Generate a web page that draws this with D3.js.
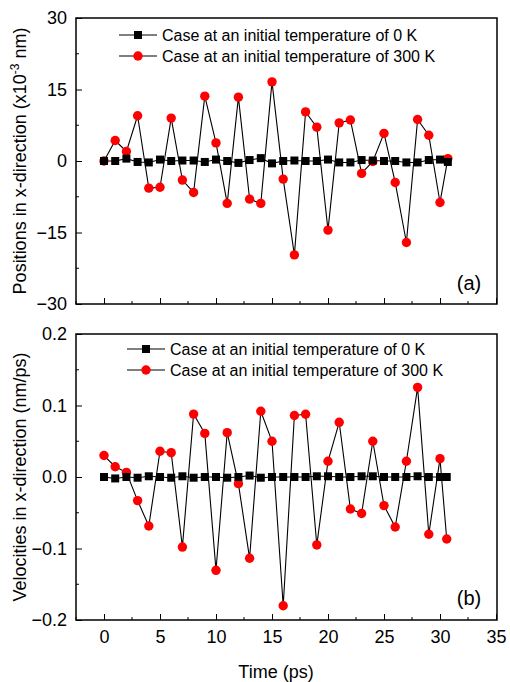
<!DOCTYPE html>
<html><head><meta charset="utf-8">
<script src="https://cdn.jsdelivr.net/npm/d3@7"></script>
<style>body{margin:0;background:#fff}svg{display:block}text{font-family:"Liberation Sans",Arial,sans-serif;fill:#000}</style>
</head><body><div id="c"></div>
<script>
// ---- data ----
const timeTop = [0,1,2,3,4,5,6,7,8,9,10,11,12,13,14,15,16,17,18,19,20,21,22,23,24,25,26,27,28,29,30,30.7];
const pos0K   = [0,0,0.5,-0.2,-0.3,0.3,0,0.1,0.1,-0.2,0.3,0,-0.4,0.2,0.6,-0.5,0,0.1,0,0,0.3,-0.3,-0.3,0.2,0.1,0,0,-0.3,-0.3,0.2,0.3,-0.2];
const pos300K = [0,4.3,2.0,9.5,-5.7,-5.5,9.0,-4.0,-6.6,13.6,3.8,-8.9,13.4,-8.0,-8.9,16.6,-3.8,-19.7,10.3,7.1,-14.5,8.0,8.6,-2.6,-0.1,5.8,-4.5,-17.1,8.7,5.4,-8.7,0.5];
const timeBot = [0,1,2,3,4,5,6,7,8,9,10,11,12,13,14,15,16,17,18,19,20,21,22,23,24,25,26,27,28,29,30,30.6];
const vel0K   = [0,-0.002,0,-0.001,0.001,0,-0.001,0.001,-0.001,0,0,-0.001,0,0.002,-0.001,0,0,0,0,0.001,0.001,0,0,0.001,0.001,0,0,0,0.001,0,0,0];
const vel300K = [0.030,0.0144,0.0065,-0.033,-0.0685,0.036,0.034,-0.098,0.088,0.061,-0.1305,0.062,-0.0093,-0.1137,0.092,0.050,-0.180,0.086,0.0877,-0.095,0.022,0.0765,-0.0448,-0.051,0.050,-0.040,-0.070,0.022,0.1254,-0.080,0.0256,-0.0867];
const xTicks = [0,5,10,15,20,25,30,35];
const posTicks = [-30,-15,0,15,30];
const velTicks = [-0.2,-0.1,0.0,0.1,0.2];
const legendLabels = ["Case at an initial temperature of 0 K","Case at an initial temperature of 300 K"];

const W=510,H=682;
const svg=d3.select("#c").append("svg").attr("width",W).attr("height",H);
const x=d3.scaleLinear().domain([-2.5,35]).range([76,496]);

function panel(o){
  const y=d3.scaleLinear().domain(o.ydom).range([o.bottom,o.top]);
  const g=svg.append("g");
  const xMinor=d3.range(-2.5,35.01,2.5).filter(v=>!xTicks.includes(v));
  g.selectAll(".xmin").data(xMinor).enter().append("line")
    .attr("x1",d=>x(d)).attr("x2",d=>x(d)).attr("y1",o.bottom).attr("y2",o.bottom-3).attr("stroke","#000");
  const yMinor=[];for(let i=0;i<o.yticks.length-1;i++)yMinor.push((o.yticks[i]+o.yticks[i+1])/2);
  g.selectAll(".ymin").data(yMinor).enter().append("line")
    .attr("x1",76).attr("x2",79).attr("y1",d=>y(d)).attr("y2",d=>y(d)).attr("stroke","#000");
  const xa=g.append("g").attr("transform",`translate(0,${o.bottom})`)
    .call(d3.axisBottom(x).tickValues(xTicks).tickSizeInner(-6).tickSizeOuter(0).tickPadding(10).tickFormat(o.xlabels?d3.format("d"):""));
  xa.select(".domain").remove();
  xa.selectAll("text").attr("font-size",18).attr("font-family","Liberation Sans, Arial, sans-serif");
  const ya=g.append("g").attr("transform",`translate(76,0)`)
    .call(d3.axisLeft(y).tickValues(o.yticks).tickSizeInner(-6).tickSizeOuter(0).tickPadding(9).tickFormat(o.yfmt));
  ya.select(".domain").remove();
  ya.selectAll("text").attr("font-size",18).attr("font-family","Liberation Sans, Arial, sans-serif");
  g.selectAll(".tick line").attr("stroke","#000");
  g.append("rect").attr("x",76).attr("y",o.top).attr("width",421).attr("height",o.bottom-o.top)
    .attr("fill","none").attr("stroke","#000").attr("stroke-width",1.5);
  const line=d3.line().x(d=>x(d[0])).y(d=>y(d[1]));
  const d0=o.t.map((t,i)=>[t,o.s0[i]]), d1=o.t.map((t,i)=>[t,o.s1[i]]);
  g.append("path").datum(d1).attr("d",line).attr("fill","none").attr("stroke","#000").attr("stroke-width",1.1);
  g.append("path").datum(d0).attr("d",line).attr("fill","none").attr("stroke","#000").attr("stroke-width",1.1);
  g.selectAll(".c").data(d1).enter().append("circle").attr("cx",d=>x(d[0])).attr("cy",d=>y(d[1])).attr("r",4.7).attr("fill","#f00");
  g.selectAll(".s").data(d0).enter().append("rect").attr("x",d=>x(d[0])-4).attr("y",d=>y(d[1])-4).attr("width",8).attr("height",8).attr("fill","#000");
  const L=o.leg;
  [0,1].forEach(i=>{
    const yy=L.y+i*21;
    g.append("line").attr("x1",L.x).attr("x2",L.x+38).attr("y1",yy).attr("y2",yy).attr("stroke","#000").attr("stroke-width",1.1);
    if(i===0) g.append("rect").attr("x",L.x+19-4).attr("y",yy-4).attr("width",8).attr("height",8).attr("fill","#000");
    else g.append("circle").attr("cx",L.x+19).attr("cy",yy).attr("r",4.7).attr("fill","#f00");
    g.append("text").attr("x",L.x+43).attr("y",yy).attr("dy","0.35em").attr("font-size",16).text(legendLabels[i]);
  });
  g.append("text").attr("x",469).attr("y",o.tag[1]).attr("dy","0.35em").attr("text-anchor","middle").attr("font-size",20).text(o.tag[0]);
  const yt=g.append("text").attr("transform",`translate(20,${(o.top+o.bottom)/2}) rotate(-90)`).attr("dy","0.35em").attr("text-anchor","middle").attr("font-size",18);
  o.title(yt);
  return g;
}

panel({top:18,bottom:304,ydom:[-30,30],yticks:posTicks,yfmt:d3.format("d"),t:timeTop,s0:pos0K,s1:pos300K,xlabels:false,
  leg:{x:119,y:35},tag:["(a)",283],
  title:t=>{t.append("tspan").text("Positions in x-direction (x10");t.append("tspan").attr("font-size",12).attr("dy",-7).text("-3");t.append("tspan").attr("dy",7).text(" nm)");}});
panel({top:334,bottom:620,ydom:[-0.2,0.2],yticks:velTicks,yfmt:d3.format(".1f"),t:timeBot,s0:vel0K,s1:vel300K,xlabels:true,
  leg:{x:127,y:349},tag:["(b)",598],
  title:t=>t.text("Velocities in x-direction (nm/ps)")});
svg.append("text").attr("x",276).attr("y",672).attr("dy","0.35em").attr("text-anchor","middle").attr("font-size",18).text("Time (ps)");
</script></body></html>
